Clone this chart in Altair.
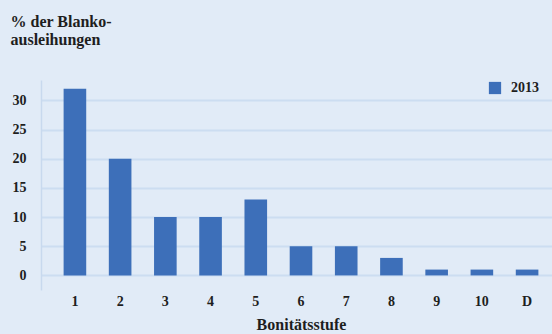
import altair as alt
import pandas as pd

# Bonitätsstufen und Anteil an den Blankoausleihungen (2013)
stufen = ["1", "2", "3", "4", "5", "6", "7", "8", "9", "10", "D"]
anteil_2013 = [32, 20, 10, 10, 13, 5, 5, 3, 1, 1, 1]
jahr = ["2013"] * len(stufen)
y_ticks = [0, 5, 10, 15, 20, 25, 30]

df = pd.DataFrame({"Stufe": stufen, "Anteil": anteil_2013, "Jahr": jahr})

FONT = "Liberation Serif"
BG = "#E1EBF7"
BAR = "#3D6FB9"
TXT = "#1E1E1E"

bars = alt.Chart(df).mark_bar(color=BAR).encode(
    x=alt.X(
        "Stufe:N",
        sort=stufen,
        scale=alt.Scale(range=[0, 520], paddingInner=0.5, paddingOuter=0.5),
        axis=alt.Axis(
            title="Bonitätsstufe",
            domain=False,
            ticks=False,
            labelAngle=0,
            labelPadding=4,
            labelFont=FONT,
            labelFontSize=14,
            labelFontWeight="bold",
            labelColor=TXT,
            titleFont=FONT,
            titleFontSize=16,
            titleFontWeight="bold",
            titleColor=TXT,
            titlePadding=8,
        ),
    ),
    y=alt.Y(
        "Anteil:Q",
        scale=alt.Scale(domain=[-2.5, 33.5], nice=False, zero=False),
        axis=alt.Axis(
            title=["% der Blanko-", "ausleihungen"],
            titleAngle=0,
            titleAlign="left",
            titleBaseline="alphabetic",
            titleX=-31,
            titleY=-54,
            titleLineHeight=18,
            titleFont=FONT,
            titleFontSize=16,
            titleFontWeight="bold",
            titleColor=TXT,
            values=y_ticks,
            ticks=False,
            domain=True,
            domainColor="#C8D9EE",
            domainWidth=1.5,
            grid=True,
            gridColor="#CCDDF1",
            gridWidth=2,
            labelPadding=15,
            labelFont=FONT,
            labelFontSize=14,
            labelFontWeight="bold",
            labelColor=TXT,
        ),
    ),
    y2=alt.datum(0),
    fill=alt.Fill(
        "Jahr:N",
        scale=alt.Scale(range=[BAR]),
        legend=alt.Legend(
            title=None,
            orient="none",
            legendX=447,
            legendY=1,
            symbolType="square",
            symbolSize=150,
            symbolStrokeWidth=0,
            labelFont=FONT,
            labelFontSize=14,
            labelFontWeight="bold",
            labelColor=TXT,
            labelOffset=9,
        ),
    ),
)

chart = bars.properties(
    width=511,
    height=210,
    background=BG,
    autosize=alt.AutoSizeParams(type="none"),
    padding={"left": 41, "top": 80, "right": 0, "bottom": 44},
).configure_view(stroke=None)

chart.save("out.html", embed_options={"renderer": "svg", "actions": False})
